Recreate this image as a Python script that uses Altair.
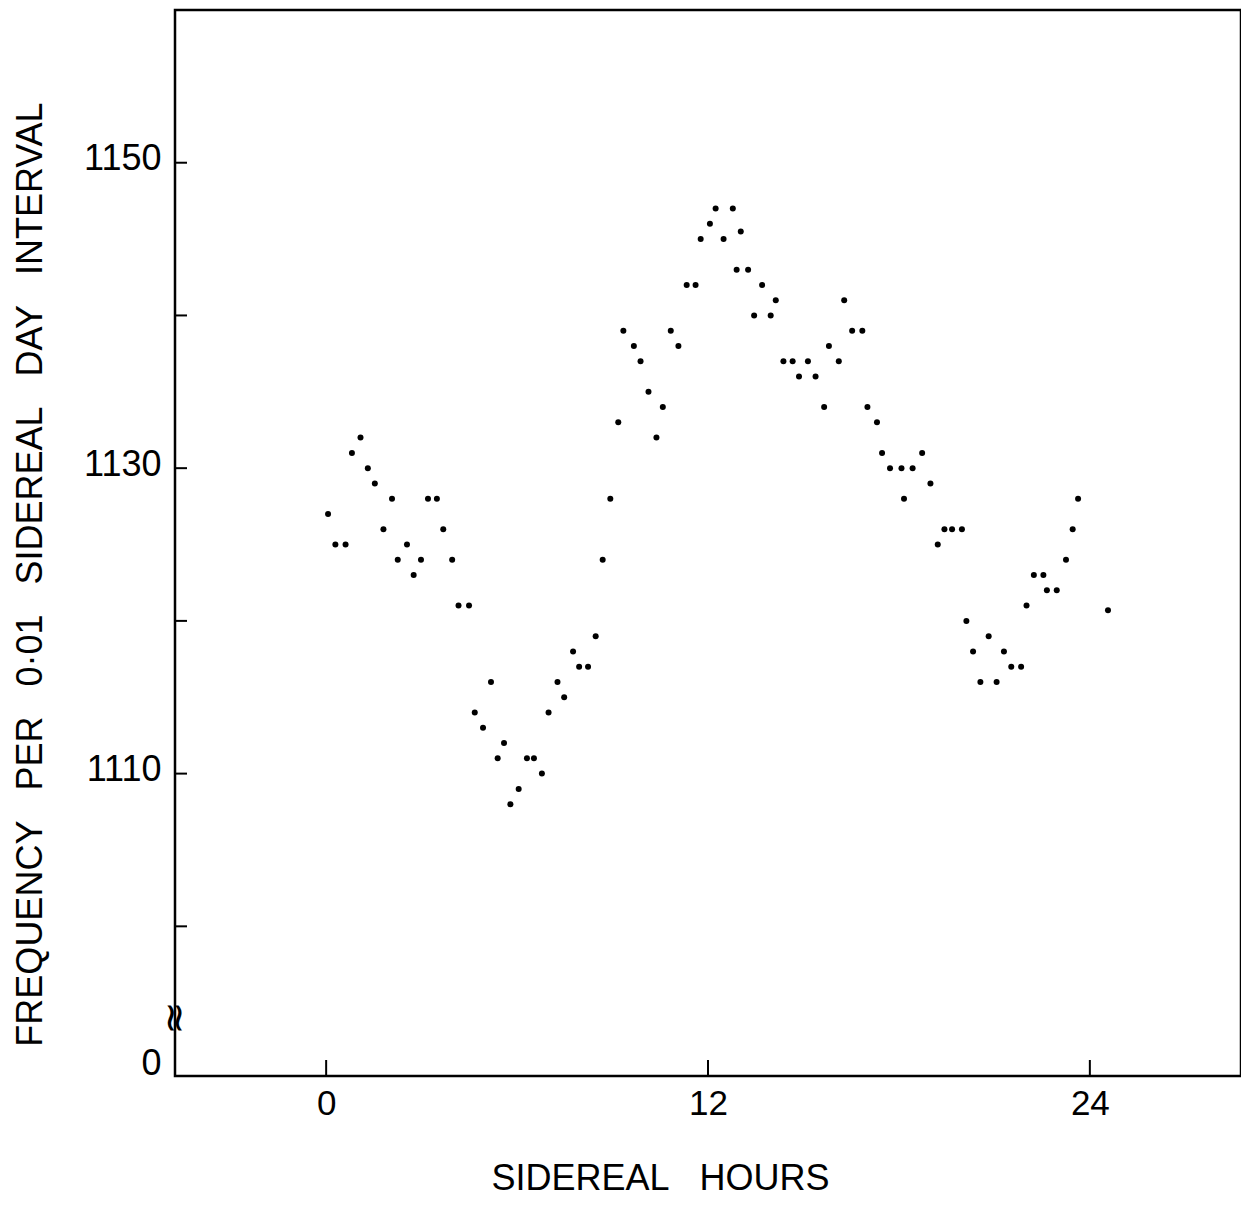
import altair as alt
import pandas as pd

# Sidereal hour of each plotted point
hours = [0.06, 0.29, 0.61, 0.81, 1.08, 1.31, 1.53, 1.80, 2.07, 2.25, 2.54, 2.75, 2.98, 3.20, 3.48, 3.68, 3.96, 4.16, 4.49,
         4.67, 4.93, 5.18, 5.39, 5.59, 5.79, 6.05, 6.31, 6.53, 6.78, 6.99, 7.27, 7.48, 7.76, 7.95, 8.23, 8.47,
         8.69, 8.93,
         9.18, 9.34, 9.67, 9.88, 10.13, 10.38, 10.58, 10.83, 11.07, 11.33, 11.61, 11.77, 12.06, 12.24, 12.49, 12.78,
         12.90, 13.03, 13.26, 13.45, 13.70, 13.97, 14.13,
         14.37, 14.66, 14.86, 15.14, 15.38, 15.65, 15.80, 16.11, 16.28, 16.53, 16.85, 17.01, 17.31, 17.47, 17.72,
         18.08, 18.16, 18.43, 18.73, 18.99,
         19.22, 19.43, 19.67, 19.98, 20.12, 20.33, 20.56, 20.82, 21.07, 21.30, 21.53, 21.84, 22.01, 22.24, 22.54,
         22.65, 22.96, 23.25, 23.46, 23.63, 24.57]

# Frequency per 0.01 sidereal day interval
freq = [1127, 1125, 1125, 1131, 1132, 1130, 1129, 1126, 1128, 1124, 1125, 1123, 1124, 1128, 1128, 1126, 1124, 1121, 1121,
        1114, 1113, 1116, 1111, 1112, 1108, 1109, 1111, 1111, 1110, 1114, 1116, 1115, 1118, 1117, 1117, 1119,
        1124, 1128,
        1133, 1139, 1138, 1137, 1135, 1132, 1134, 1139, 1138, 1142, 1142, 1145, 1146, 1147, 1145, 1147,
        1143, 1145.5, 1143, 1140, 1142, 1140, 1141,
        1137, 1137, 1136, 1137, 1136, 1134, 1138, 1137, 1141, 1139, 1139, 1134, 1133, 1131, 1130,
        1130, 1128, 1130, 1131, 1129,
        1125, 1126, 1126, 1126, 1120, 1118, 1116, 1119, 1116, 1118, 1117, 1117, 1121, 1123, 1123,
        1122, 1122, 1124, 1126, 1128, 1120.7]

y_tick_values = [1100, 1110, 1120, 1130, 1140, 1150]
y_label_values = [1090.75, 1110, 1130, 1150]
x_tick_values = [0, 12, 24]
break_at = [1094]

W, H = 1066, 1066
x_scale = alt.Scale(domain=[-4.75, 28.75], nice=False, zero=False)
y_scale = alt.Scale(domain=[1090.2, 1160], nice=False, zero=False)

df = pd.DataFrame({"h": hours, "f": freq})
font = "Liberation Sans"
sp = "\u00a0\u00a0\u00a0"

x_axis = alt.Axis(values=x_tick_values, ticks=False, domain=False, grid=False,
                  labelFontSize=35, labelFont=font, labelPadding=10, labelColor="black",
                  title="SIDEREAL" + sp + "HOURS", titleFont=font, titleFontSize=36,
                  titleFontWeight="normal", titleColor="black",
                  titleX=485, titleY=102, titleBaseline="middle")
y_axis = alt.Axis(values=y_label_values, ticks=False, domain=False, grid=False,
                  labelExpr="datum.value < 1100 ? '0' : datum.label", format="d",
                  labelFontSize=36, labelFont=font, labelPadding=14, labelColor="black",
                  labelOffset=-4,
                  title="FREQUENCY" + sp + "PER" + sp + "0·01" + sp + "SIDEREAL" + sp + "DAY" + sp + "INTERVAL",
                  titleFont=font, titleFontSize=36, titleFontWeight="normal", titleColor="black",
                  titleX=-145, titleY=564, titleAngle=-90, titleAlign="center",
                  titleBaseline="middle")

points = alt.Chart(df).mark_circle(color="black", opacity=1, size=36).encode(
    x=alt.X("h:Q", scale=x_scale, axis=x_axis),
    y=alt.Y("f:Q", scale=y_scale, axis=y_axis),
)

yt = alt.Chart(pd.DataFrame({"f": y_tick_values})).mark_rule(color="black", strokeWidth=2).encode(
    y=alt.Y("f:Q", scale=y_scale, axis=y_axis),
    x=alt.value(0), x2=alt.value(12),
)

xt = alt.Chart(pd.DataFrame({"h": x_tick_values})).mark_rule(color="black", strokeWidth=2).encode(
    x=alt.X("h:Q", scale=x_scale, axis=x_axis),
    y=alt.value(H), y2=alt.value(H - 16),
)

brk = alt.Chart(pd.DataFrame({"f": break_at})).mark_text(
    text="≈", angle=90, fontSize=40, color="black", font="DejaVu Sans").encode(
    y=alt.Y("f:Q", scale=y_scale, axis=y_axis),
    x=alt.value(-1),
)

chart = alt.layer(points, yt, xt, brk).properties(
    width=W, height=H,
    background="white",
    autosize=alt.AutoSizeParams(type="none"),
    padding={"left": 167, "top": 2, "right": 0, "bottom": 123},
).configure_view(stroke="black", strokeWidth=2.5)

chart.save("out.html", embed_options={"renderer": "svg", "actions": False})
